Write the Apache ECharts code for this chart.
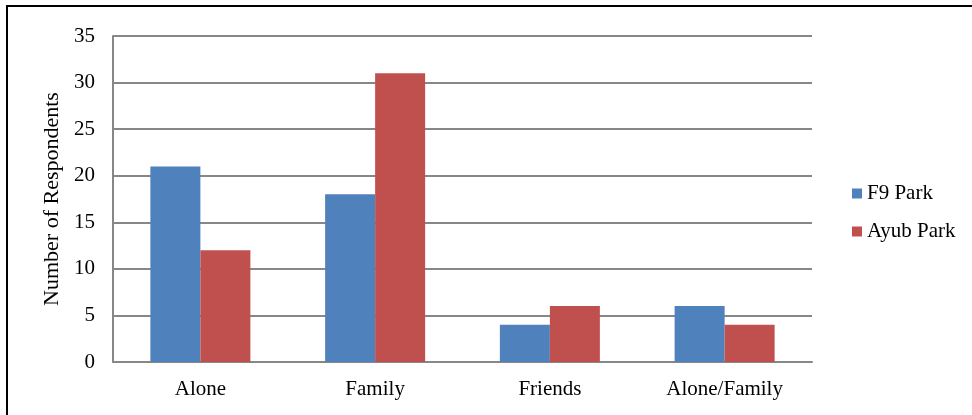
<!DOCTYPE html>
<html>
<head>
<meta charset="utf-8">
<script src="https://cdn.jsdelivr.net/npm/echarts@6/dist/echarts.min.js"></script>
<style>
  html, body { margin: 0; padding: 0; background: #ffffff; }
  #chart { width: 972px; height: 415px; }
</style>
</head>
<body>
<div id="chart"></div>
<script>
// Who visitors come to the park with, by park
const categories = ['Alone', 'Family', 'Friends', 'Alone/Family'];
const f9Park = [21, 18, 4, 6];
const ayubPark = [12, 31, 6, 4];
const yTicks = { min: 0, max: 35, interval: 5 };

const FONT = '"Liberation Serif", "Times New Roman", serif';
const GRID_COLOR = '#878787';

const chart = echarts.init(document.getElementById('chart'), null, { renderer: 'canvas' });

chart.setOption({
  backgroundColor: '#ffffff',
  animation: false,
  textStyle: { fontFamily: FONT, color: '#000000' },
  grid: { left: 113, right: 160, top: 36, bottom: 53 },
  graphic: [{
    type: 'rect',
    shape: { x: 7, y: 6, width: 1000, height: 1000 },
    style: { fill: 'none', stroke: '#000000', lineWidth: 2 },
    silent: true
  }],
  legend: {
    orient: 'vertical',
    left: 852,
    top: 183,
    padding: 0,
    itemWidth: 10,
    itemHeight: 10,
    itemGap: 17,
    icon: 'rect',
    textStyle: { fontFamily: FONT, fontSize: 21, color: '#000000' },
    data: ['F9 Park', 'Ayub Park']
  },
  xAxis: {
    type: 'category',
    data: categories,
    axisLine: { lineStyle: { color: GRID_COLOR, width: 2 } },
    axisTick: { show: false },
    axisLabel: { fontFamily: FONT, fontSize: 21, color: '#000000', margin: 17 }
  },
  yAxis: {
    type: 'value',
    min: yTicks.min,
    max: yTicks.max,
    interval: yTicks.interval,
    name: 'Number of Respondents',
    nameLocation: 'middle',
    nameRotate: 90,
    nameGap: 45,
    nameTextStyle: { fontFamily: FONT, fontSize: 22, color: '#000000' },
    axisLine: { show: true, lineStyle: { color: GRID_COLOR, width: 2 } },
    axisTick: { show: false },
    axisLabel: { fontFamily: FONT, fontSize: 21, color: '#000000', margin: 18 },
    splitLine: { lineStyle: { color: GRID_COLOR, width: 2 } }
  },
  series: [
    {
      name: 'F9 Park',
      type: 'bar',
      data: f9Park,
      barWidth: 50,
      barGap: '0%',
      itemStyle: { color: '#4F81BD' }
    },
    {
      name: 'Ayub Park',
      type: 'bar',
      data: ayubPark,
      barWidth: 50,
      barGap: '0%',
      itemStyle: { color: '#C0504D' }
    }
  ]
});
</script>
</body>
</html>
